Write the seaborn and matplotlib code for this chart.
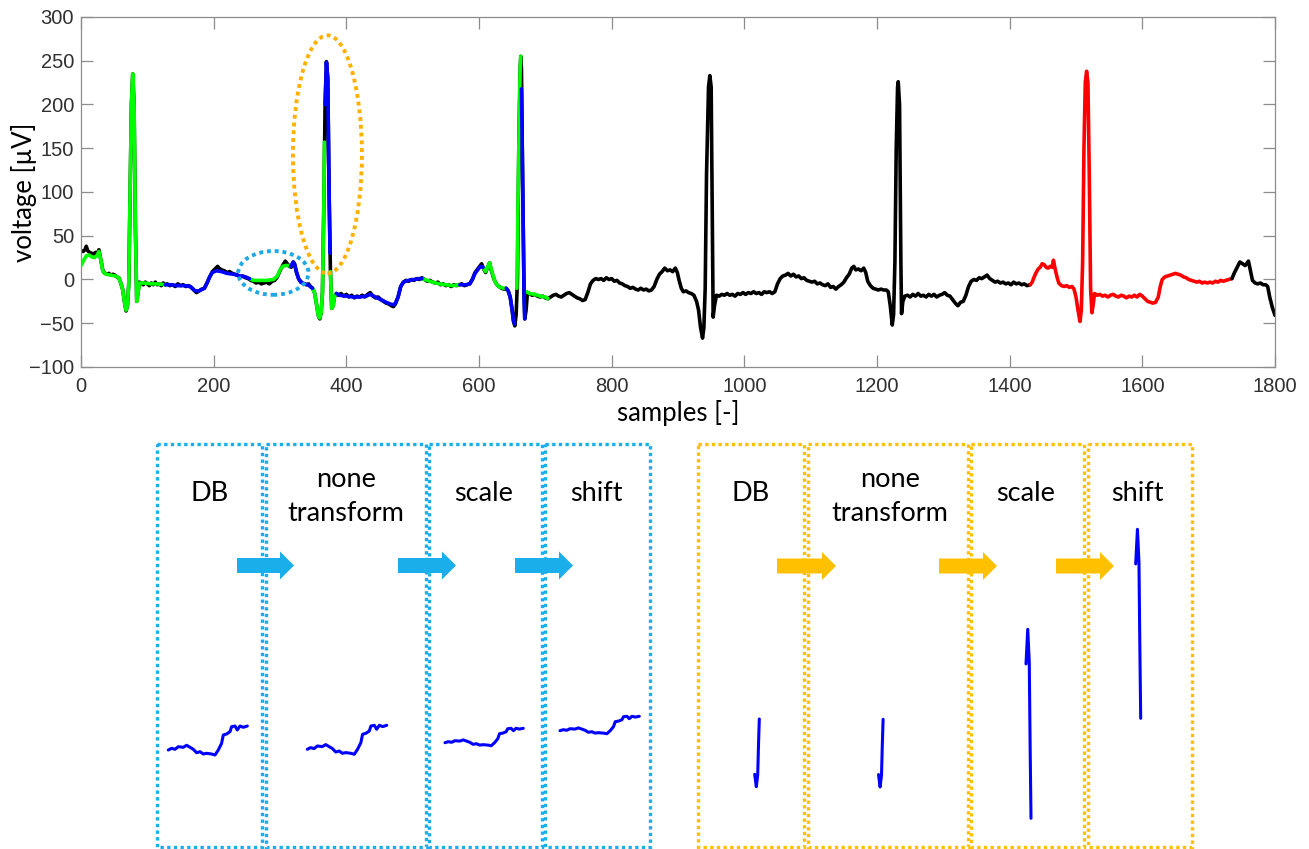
import numpy as np
import pandas as pd
import matplotlib
matplotlib.use("Agg")
import matplotlib.pyplot as plt
import seaborn as sns
from matplotlib.patches import Ellipse, Rectangle, FancyArrow

W, H = 1309, 849

# ---------------- data ----------------
ECG_BLACK_A = [
    (0,33),(3,32),(6,34),(8,38),(10,33),(13,31),(16,30),(19,29),(22,31),(25,30),(27,34),(29,26),(31,18),(33,10),
    (36,7),(39,6),(42,7),(45,5),(48,6),(51,5),(54,3),(57,2),(60,-4),(63,-12),(66,-28),(68,-36),(70,-30),(72,-5),
    (74,100),(76,200),(78,235),(80,200),(82,60),(84,-25),(86,-15),(88,-3),(91,-4),(94,-6),(97,-3),(100,-5),(103,-7),
    (106,-4),(109,-6),(112,-3),(115,-6),(118,-5),(121,-7),(124,-4),(127,-6),(130,-5),(134,-7),(138,-6),(142,-8),
    (146,-5),(150,-7),(154,-6),(158,-8),(162,-7),(166,-9),(170,-12),(174,-15),(178,-13),(182,-11),(186,-10),
    (190,-4),(194,3),(198,9),(202,12),(206,15),(208,13),(212,11),(216,10),(220,8),(224,9),(228,7),(232,6),(236,5),
    (240,3),(244,4),(248,2),(252,1),(256,-1),(260,-2),(264,-4),(268,-3),(272,-5),(276,-4),(280,-3),(284,-5),
    (288,-2),(292,-1),(296,3),(300,10),(304,16),(308,21),(311,18),(314,15),(317,14),(320,20),(322,18),(325,8),
    (328,1),(331,-2),(334,-4),(337,-5),(340,-6),(343,-5),(346,-8),(349,-10),(352,-15),(355,-28),(358,-42),
    (360,-45),(362,-38),(364,-15),(366,80),(368,200),(370,249),(372,230),(374,100),(376,10),(378,-33),(380,-30),
    (382,-20),(385,-16),(388,-18),(392,-16),(396,-19),(400,-17),(404,-20),(408,-18),(412,-21),(416,-19),(420,-20),
    (424,-18),(428,-20),(432,-17),(436,-15),(440,-19),(444,-21),(448,-20),(452,-23),(456,-25),(460,-27),(464,-28),
    (468,-30),(471,-31),(474,-28),(478,-20),(482,-8),(486,-3),(490,-1),(494,-2),(498,0),(502,-1),(506,1),(510,0),
    (514,2),(518,0),(522,-2),(526,-1),(530,-3),(534,-4),(538,-3),(542,-6),(546,-5),(550,-7),(554,-6),(558,-8),
    (562,-6),(566,-7),(570,-6),(574,-5),(578,-7),(582,-6),(586,-5),(590,0),(594,8),(598,12),(602,16),(604,18),
    (607,12),(610,8),(613,14),(616,19),(618,12),(621,4),(624,-2),(627,-6),(630,-8),(634,-10),(638,-11),(641,-10),
    (644,-13),(647,-20),(650,-35),(652,-48),(654,-53),(656,-40),(658,0),(660,150),(662,240),(663,255),(664,240),
    (666,100),(668,-20),(669,-45),(671,-35),(673,-15),(676,-16),(680,-18),(684,-17),(688,-19),(692,-20),(696,-19),
    (700,-21),(704,-22),(708,-20),(712,-18),(716,-17),(720,-19),(724,-20),(728,-18),(732,-16),(736,-15),(740,-17),
    (744,-19),(748,-21),(752,-22),(756,-24),(760,-23),(764,-15),(768,-5),(772,-1),(776,1),(780,0),(784,1),(788,-1),
    (792,2),(796,0),(800,1),(804,-2),(808,-1),(812,-4),(816,-5),(820,-7),(824,-8),(828,-10),(832,-9),(836,-11),
    (840,-12),(844,-10),(848,-12),(852,-11),(856,-13),(860,-12),(864,-8),(868,0),(872,6),(876,9),(880,13),(884,10),
    (888,11),(892,9),(896,13),(899,8),(902,-2),(905,-10),(908,-14),(912,-13),(916,-15),(920,-16),(924,-18),
    (928,-25),(931,-35),(934,-55),(937,-67),(939,-55),(941,-10),(943,120),(946,220),(948,233),(950,220),(952,50),
    (953,-43),(955,-30),(958,-18),(962,-19),(966,-17),(970,-18),(974,-16),(978,-18),(982,-17),(986,-19),(990,-16),
    (994,-17),(998,-15),(1002,-17),(1006,-15),(1010,-16),(1014,-14),(1018,-16),(1022,-15),(1026,-17),(1030,-14),
    (1034,-15),(1038,-14),(1042,-16),(1046,-14),(1050,-5),(1054,1),(1058,4),(1062,5),(1066,7),(1070,4),(1074,6),
    (1078,3),(1082,4),(1086,1),(1090,2),(1094,-1),(1098,-2),(1102,-3),(1106,-2),(1110,-5),(1114,-4),(1118,-6),
    (1122,-7),(1126,-5),(1130,-9),(1134,-8),(1138,-11),(1142,-8),(1146,-6),(1150,-3),(1154,2),(1158,6),(1162,13),
    (1165,15),(1168,11),(1172,12),(1176,10),(1180,13),(1183,8),(1186,-2),(1190,-7),(1194,-10),(1198,-11),
    (1202,-12),(1206,-11),(1210,-12),(1214,-12),(1217,-14),(1220,-30),(1223,-52),(1225,-40),(1227,20),(1229,150),
    (1231,220),(1232,226),(1234,200),(1236,20),(1237,-39),(1239,-25),(1242,-19),(1246,-18),(1250,-20),(1254,-17),
    (1258,-19),(1262,-16),(1266,-19),(1270,-18),(1274,-20),(1278,-17),(1282,-19),(1286,-17),(1290,-20),(1294,-18),
    (1298,-17),(1302,-15),(1306,-18),(1310,-19),(1314,-23),(1318,-27),(1322,-30),(1326,-26),(1330,-25),(1334,-18),
    (1338,-8),(1342,-2),(1346,0),(1350,-1),(1354,2),(1358,1),(1362,3),(1366,5),(1370,1),(1374,-1),(1378,-3),
    (1382,-2),(1386,-4),(1390,-3),(1394,-5),(1398,-4),(1402,-6),(1406,-3),(1410,-5),(1414,-4),(1418,-6),(1422,-5),
    (1426,-7),(1431,-6)]
ECG_RED = [
    (1431,-6),(1434,-3),(1437,3),(1440,8),(1443,12),(1446,14),(1449,18),(1452,17),(1455,14),(1458,13),(1461,15),
    (1464,14),(1466,22),(1468,14),(1471,4),(1474,-4),(1478,-7),(1482,-8),(1486,-7),(1490,-9),(1494,-8),(1497,-11),
    (1500,-20),(1503,-35),(1506,-48),(1508,-35),(1510,20),(1512,150),(1514,225),(1516,238),(1518,225),(1520,120),
    (1522,-10),(1524,-38),(1526,-28),(1528,-16),(1532,-18),(1536,-17),(1540,-19),(1544,-18),(1548,-20),(1552,-18),
    (1556,-17),(1560,-19),(1564,-20),(1568,-18),(1572,-19),(1576,-21),(1580,-19),(1584,-20),(1588,-18),(1592,-20),
    (1596,-17),(1600,-19),(1604,-22),(1608,-25),(1612,-26),(1616,-27),(1620,-26),(1624,-20),(1627,-8),(1630,0),
    (1634,3),(1638,4),(1642,5),(1646,6),(1650,7),(1654,6),(1658,5),(1662,3),(1666,2),(1670,0),(1674,-1),(1678,-2),
    (1682,-3),(1686,-2),(1690,-4),(1694,-3),(1698,-4),(1702,-3),(1706,-4),(1710,-2),(1714,-3),(1718,-1),(1722,-2),
    (1726,-1),(1730,0),(1735,1)]
ECG_BLACK_B = [
    (1735,1),(1739,8),(1743,14),(1747,20),(1751,18),(1755,16),(1758,19),(1760,21),(1763,10),(1766,-1),(1770,-4),
    (1774,-5),(1778,-4),(1782,-6),(1786,-6),(1789,-8),(1792,-20),(1796,-32),(1800,-41)]

# green overlay segments (samples, voltage)
GREEN_SEGMENTS = [
    ([0,4,8,12,16,20,24,27,30,33,38,45,52,57,60,63,66,68,70,72,74,76,78,80,82,84,86,88,95,105,115,127],
     [16,22,27,28,26,25,27,32,22,9,6,5,4,2,-4,-12,-28,-35,-30,-5,100,200,235,200,60,-25,-15,-4,-4,-5,-5,-6]),
    ([254,260,270,280,290,296,300,304,308,312,316], [1,-1,-1,-1,0,4,11,15,16,16,15]),
    ([349,352,355,358,360,362,364,366,367], [-10,-15,-28,-42,-44,-38,-15,80,157]),
    ([376,378,380,382,385], [9,-33,-30,-20,-16]),
    ([514,522,530,540,550,560,571], [1,-1,-3,-5,-6,-7,-6]),
    ([606,610,613,616,618,621,624,627,632,638,641], [14,9,14,19,13,5,-2,-6,-9,-10,-10]),
    ([657,660,662,663], [-10,150,240,255]),
    ([672,676,684,692,700,704], [-14,-16,-17,-19,-20,-22]),
]
# blue overlay segments (samples, voltage)
BLUE_SEGMENTS = [
    ([127,135,145,155,165,172,178,186,190,194,198,204,212,220,230,240,248,254],
     [-6,-6,-7,-7,-8,-13,-13,-10,-4,3,8,10,9,7,6,4,3,1]),
    ([316,320,322,325,328,331,336,342,349], [15,20,17,8,1,-3,-5,-6,-10]),
    ([368,370,372,374,375.4], [200,248,230,100,30]),
    ([385,390,400,410,420,430,436,444,452,460,466,471,474,478,482,486,494,502,510,514],
     [-16,-18,-19,-20,-20,-19,-17,-20,-23,-26,-28,-29,-27,-20,-8,-3,-1,0,1,1]),
    ([571,580,586,590,594,598,602,606], [-6,-6,-5,0,7,11,15,14]),
    ([641,644,647,650,652,654], [-10,-13,-20,-35,-47,-51]),
    ([664,666,668,669], [218,100,-20,-45]),
]

# highlighted regions (ellipses): centre sample, centre voltage, width, height
BLUE_REGION = (290, 7.5, 106, 50)
ORANGE_REGION = (371.5, 143, 104, 272)

X_TICKS = [0, 200, 400, 600, 800, 1000, 1200, 1400, 1600, 1800]
Y_TICKS = [-100, -50, 0, 50, 100, 150, 200, 250, 300]

STEP_LABELS = ["DB", "none\ntransform", "scale", "shift"]

# small excerpt shown in the blue-framed boxes
BLUE_EXCERPT_T = [0,3.3,6.7,10,15,18.3,21.7,25,28.3,31.7,35,38.3,43.3,46.7,50,53.3,55,58.3,61.7,63.3,66.7,69,71.7,75,79]
BLUE_EXCERPT_V = [0,1.7,0.7,3.3,2.7,4.7,2.7,0.7,-2.7,-1.7,-4,-3.3,-4,-5,0,6.7,15,16,18.3,23.3,24,20,24,22.7,24]
# small excerpt shown in the orange-framed boxes
ORANGE_EXCERPT_T = [0, 1.6, 3.0, 3.8, 4.6]
ORANGE_EXCERPT_V = [12.4, 0, 11.7, 41.7, 67.7]

# ---------------- style ----------------
sns.set_theme(style="white")
plt.rcParams["font.family"] = ["Liberation Sans", "DejaVu Sans"]

BLUE_C = "#1AAEEA"
ORANGE_C = "#FFC000"
LINE_BLUE = "#0000FF"
LINE_GREEN = "#00FF00"
LINE_RED = "#FF0000"
LW = 2.6
LABEL_FONT = ["Lato", "DejaVu Sans"]

fig = plt.figure(figsize=(W / 100, H / 100), dpi=100)


def px_axes(x0, y0, x1, y1, **kw):
    return fig.add_axes([x0 / W, 1 - y1 / H, (x1 - x0) / W, (y1 - y0) / H], **kw)


ax = px_axes(81, 17, 1275, 367)


def draw(ax_, pts_s, pts_v, color, lw=LW, z=2):
    sns.lineplot(x=np.asarray(pts_s, float), y=np.asarray(pts_v, float), ax=ax_, color=color,
                 linewidth=lw, sort=False, estimator=None, zorder=z)


for seg, col in [(ECG_BLACK_A, "black"), (ECG_RED, LINE_RED), (ECG_BLACK_B, "black")]:
    s, v = zip(*seg)
    draw(ax, s, v, col)
for s, v in GREEN_SEGMENTS:
    draw(ax, s, v, LINE_GREEN, z=3)
for s, v in BLUE_SEGMENTS:
    draw(ax, s, v, LINE_BLUE, z=3)

for (cx, cy, w, h), col in [(BLUE_REGION, "#1EA9E4"), (ORANGE_REGION, "#FFB000")]:
    ax.add_patch(Ellipse((cx, cy), w, h, fill=False, edgecolor=col, linewidth=2.8,
                         linestyle=(0, (1, 1)), zorder=5))

ax.set_xlim(0, 1800)
ax.set_ylim(-100, 300)
ax.set_xticks(X_TICKS)
ax.set_yticks(Y_TICKS)
for sp in ax.spines.values():
    sp.set_color("#8c8c8c")
    sp.set_linewidth(0.9)
    sp.set_visible(True)
ax.tick_params(direction="in", length=8.5, width=0.9, color="#8c8c8c", labelcolor="#303030",
               labelsize=14.5, top=True, right=True, bottom=True, left=True)
ax.tick_params(axis="x", pad=7)
ax.tick_params(axis="y", pad=5)
ax.set_xlabel("samples [-]", fontsize=18.5, family=LABEL_FONT, color="black")
ax.set_ylabel("voltage [µV]", fontsize=18.5, family=LABEL_FONT, color="black")
ax.xaxis.set_label_coords(0.5, -0.095)
ax.yaxis.set_label_coords(-0.037, 0.5)

# ---------------- lower schematic ----------------
ov = fig.add_axes([0, 0, 1, 1], zorder=-1)
ov.set_xlim(0, W)
ov.set_ylim(H, 0)
ov.axis("off")

TOP, BOT = 444, 847
groups = [
    dict(col=BLUE_C, boxes=[(157, 262), (266, 426), (429, 542), (545, 650)],
         text_x=[210, 346, 484, 596], arrows=[(237, 294), (398, 456), (515, 573)], ay=565.5),
    dict(col=ORANGE_C, boxes=[(697.5, 804), (807.5, 967.5), (970.5, 1084), (1087.5, 1192)],
         text_x=[751, 890, 1026, 1137], arrows=[(777, 836), (939, 997), (1056, 1114)], ay=566),
]
tfont = dict(fontsize=19.5, family=LABEL_FONT, color="black", ha="center", va="baseline")
for g in groups:
    for x0, x1 in g["boxes"]:
        ov.add_patch(Rectangle((x0, TOP), x1 - x0, BOT - TOP, fill=False, edgecolor=g["col"],
                               linewidth=2.4, linestyle=(0, (1, 1))))
    for lab, tx in zip(STEP_LABELS, g["text_x"]):
        lines = lab.split("\n")
        if len(lines) == 1:
            ov.text(tx, 500.7, lines[0], **tfont)
        else:
            ov.text(tx, 486.7, lines[0], **tfont)
            ov.text(tx, 520.7, lines[1], **tfont)
    for a0, a1 in g["arrows"]:
        ov.add_patch(FancyArrow(a0, g["ay"], a1 - a0, 0, width=15, head_width=28, head_length=14,
                                length_includes_head=True, color=g["col"], linewidth=0))


def excerpt(bbox, t, v, flip=False):
    a = px_axes(*bbox)
    draw(a, t, v, LINE_BLUE, lw=2.2)
    a.set_xlim(min(t), max(t))
    if flip:
        a.set_ylim(max(v), min(v))
    else:
        a.set_ylim(min(v), max(v))
    a.axis("off")
    for ln in a.lines:
        ln.set_clip_on(False)
    a.patch.set_alpha(0)


# blue group: DB, none transform, scale (amplitude reduced), shift (scaled + raised)
excerpt((168.3, 726, 247.3, 755), BLUE_EXCERPT_T, BLUE_EXCERPT_V)
excerpt((307.3, 725.3, 386.7, 754.3), BLUE_EXCERPT_T, BLUE_EXCERPT_V)
excerpt((445, 728.3, 523.3, 745.7), BLUE_EXCERPT_T, BLUE_EXCERPT_V)
excerpt((560, 716.3, 639.3, 733.7), BLUE_EXCERPT_T, BLUE_EXCERPT_V)
# orange group: DB, none transform, scale (inverted & enlarged), shift
excerpt((754.7, 719, 759.3, 786.7), ORANGE_EXCERPT_T, ORANGE_EXCERPT_V)
excerpt((878.5, 719.3, 883.1, 787), ORANGE_EXCERPT_T, ORANGE_EXCERPT_V)
excerpt((1026, 629.3, 1031, 818.3), ORANGE_EXCERPT_T, ORANGE_EXCERPT_V, flip=True)
excerpt((1135.7, 529.3, 1140.7, 718.3), ORANGE_EXCERPT_T, ORANGE_EXCERPT_V, flip=True)

fig.savefig("out.png", dpi=100, facecolor="white")
